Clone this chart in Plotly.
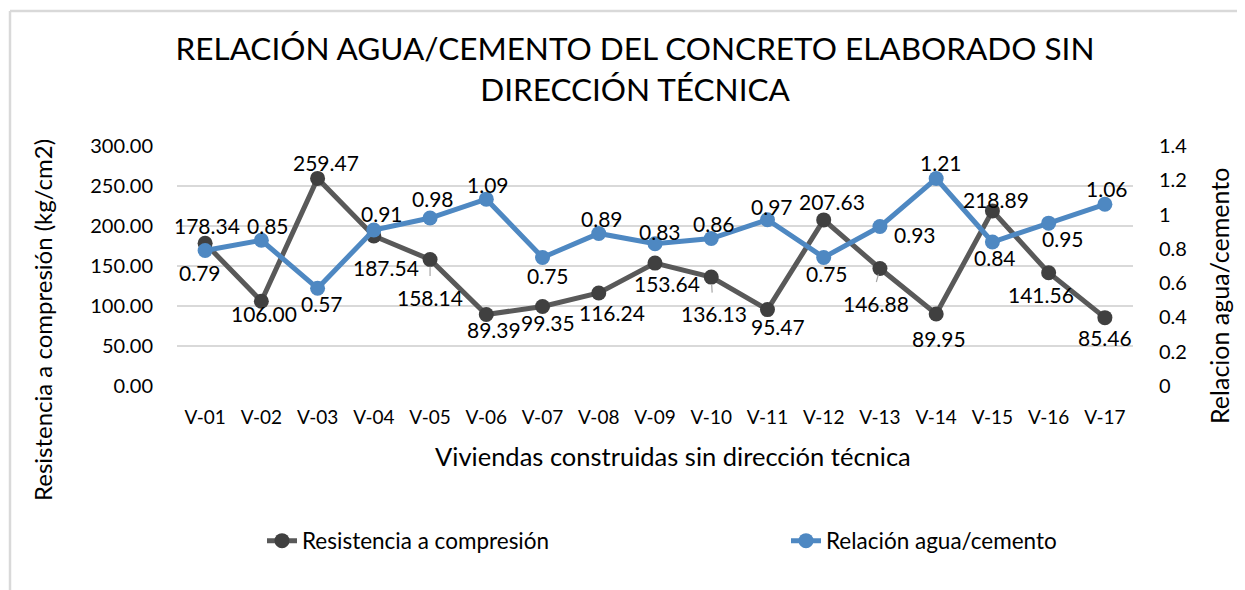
import plotly.graph_objects as go

categories = ["V-01", "V-02", "V-03", "V-04", "V-05", "V-06", "V-07", "V-08", "V-09",
              "V-10", "V-11", "V-12", "V-13", "V-14", "V-15", "V-16", "V-17"]
resistencia = [178.34, 106.00, 259.47, 187.54, 158.14, 89.39, 99.35, 116.24, 153.64,
               136.13, 95.47, 207.63, 146.88, 89.95, 218.89, 141.56, 85.46]
relacion = [0.79, 0.85, 0.57, 0.91, 0.98, 1.09, 0.75, 0.89, 0.83,
            0.86, 0.97, 0.75, 0.93, 1.21, 0.84, 0.95, 1.06]

# label offsets in pixels (dx, dy with dy positive = up)
res_off = [(2, 18), (3, -12), (8, 16), (12, -32), (0, -38), (8, -15), (5, -16), (13, -19),
           (12, -20), (3, -36), (11, -17), (8, 18), (-4, -35), (3, -24), (4, 11), (-8, -22), (0, -20)]
rel_off = [(-5, -22), (7, 15), (4, -15), (8, 17), (3, 20), (2, 15), (5, -18), (3, 15),
           (5, 12), (3, 15), (5, 13), (3, -16), (35, -8), (5, 16), (3, -15), (14, -15), (2, 16)]
leaders = {4: (0, 18, 7), 9: (1, 17, 7), 12: (-4, 15, 6)}

FONT = "Lato"
GRAY_LINE = "#595959"
GRAY_MK = "#404040"
BLUE = "#4e88c2"

# page has an 8px body margin; figure sized so the visible page is 1245x590
PAGE_OFF = 8
W, H = 1245 - PAGE_OFF, 590 - PAGE_OFF
PL, PR, PT, PB = 177, 1133, 146, 386  # plot area in page pixels


def px_paper(px):
    return (px - PL) / (PR - PL)


def py_paper(py):
    return (PB - py) / (PB - PT)


def cx(px):
    return (px - PAGE_OFF) / W


def cy(py):
    return 1 - (py - PAGE_OFF) / H


fig = go.Figure()
fig.add_trace(go.Scatter(
    x=categories, y=resistencia, name="Resistencia a compresión",
    mode="lines+markers", line=dict(color=GRAY_LINE, width=5),
    marker=dict(color=GRAY_MK, size=15), yaxis="y", legend="legend"))
fig.add_trace(go.Scatter(
    x=categories, y=relacion, name="Relación agua/cemento",
    mode="lines+markers", line=dict(color=BLUE, width=5),
    marker=dict(color=BLUE, size=15), yaxis="y2", legend="legend2"))

annotations = []
for i, (c, v) in enumerate(zip(categories, resistencia)):
    dx, dy = res_off[i]
    annotations.append(dict(x=c, y=v, xref="x", yref="y", text=f"{v:.2f}",
                            showarrow=False, xshift=dx, yshift=dy,
                            font=dict(family=FONT, size=21, color="#000000")))
for i, (c, v) in enumerate(zip(categories, relacion)):
    dx, dy = rel_off[i]
    annotations.append(dict(x=c, y=v, xref="x", yref="y2", text=f"{v:.2f}",
                            showarrow=False, xshift=dx, yshift=dy,
                            font=dict(family=FONT, size=21, color="#000000")))
for i, (ax, ay, so) in leaders.items():
    annotations.append(dict(x=categories[i], y=resistencia[i], xref="x", yref="y", text="",
                            showarrow=True, arrowhead=0, arrowwidth=1.2, arrowcolor="#a6a6a6",
                            ax=ax, ay=ay, standoff=so))

# axis titles
annotations.append(dict(text="Resistencia a compresión (kg/cm2)", textangle=-90,
                        xref="paper", yref="paper", x=px_paper(42), y=py_paper(320),
                        xanchor="center", yanchor="middle",
                        showarrow=False, font=dict(family=FONT, size=24, color="#000000")))
annotations.append(dict(text="Relacion agua/cemento", textangle=-90,
                        xref="paper", yref="paper", x=px_paper(1219), y=py_paper(296),
                        xanchor="center", yanchor="middle",
                        showarrow=False, font=dict(family=FONT, size=25, color="#000000")))
annotations.append(dict(text="Viviendas construidas sin dirección técnica",
                        xref="paper", yref="paper", x=px_paper(673), y=py_paper(456),
                        xanchor="center", yanchor="middle",
                        showarrow=False, font=dict(family=FONT, size=25.5, color="#000000")))

shapes = [
    dict(type="line", xref="paper", yref="paper", x0=px_paper(10), x1=px_paper(10),
         y0=py_paper(11), y1=py_paper(620), line=dict(color="#d9d9d9", width=2.5)),
    dict(type="line", xref="paper", yref="paper", x0=px_paper(10), x1=px_paper(1280),
         y0=py_paper(11), y1=py_paper(11), line=dict(color="#d9d9d9", width=2.5)),
]

legend_common = dict(orientation="h", xref="container", yref="container",
                     xanchor="left", yanchor="middle", y=cy(541),
                     bgcolor="rgba(0,0,0,0)",
                     font=dict(family=FONT, size=22.5, color="#000000"))

fig.update_layout(
    width=W, height=H,
    margin=dict(l=PL - PAGE_OFF, r=W - (PR - PAGE_OFF), t=PT - PAGE_OFF,
                b=H - (PB - PAGE_OFF), autoexpand=False),
    paper_bgcolor="white", plot_bgcolor="white",
    font=dict(family=FONT, color="#000000"),
    title=dict(text="RELACIÓN AGUA/CEMENTO DEL CONCRETO ELABORADO SIN<br>DIRECCIÓN TÉCNICA",
               x=cx(635), xanchor="center", xref="container",
               y=cy(60), yanchor="middle", yref="container",
               font=dict(family=FONT, size=31.5, color="#000000")),
    xaxis=dict(type="category", range=[-0.5, len(categories) - 0.5],
               showgrid=False, showline=False, zeroline=False, automargin=False,
               tickfont=dict(family=FONT, size=19, color="#000000"), ticks="",
               ticklabelstandoff=18),
    yaxis=dict(range=[0, 300], dtick=50, tickformat=".2f", showgrid=True,
               gridcolor="#d9d9d9", gridwidth=2, zeroline=False, showline=False,
               automargin=False,
               tickfont=dict(family=FONT, size=20, color="#000000"), ticklabelstandoff=23),
    yaxis2=dict(range=[0, 1.4], dtick=0.2, overlaying="y", side="right", showgrid=False,
                zeroline=False, showline=False, automargin=False,
                tickfont=dict(family=FONT, size=20, color="#000000"), ticklabelstandoff=25),
    showlegend=True,
    legend=dict(x=cx(262), **legend_common),
    legend2=dict(x=cx(786), **legend_common),
    annotations=annotations,
    shapes=shapes,
)

fig.write_html("out.html")
